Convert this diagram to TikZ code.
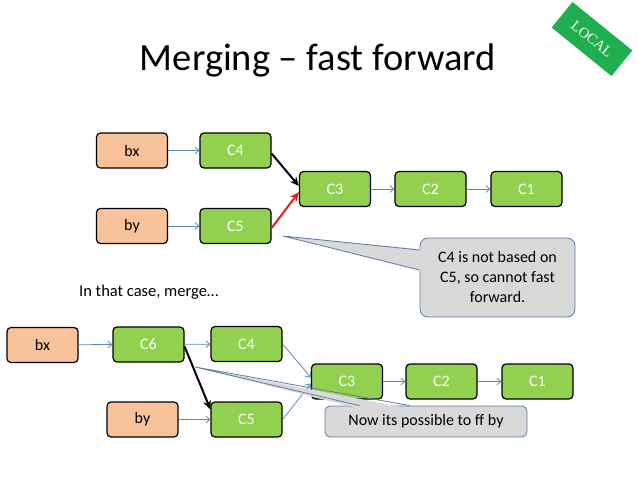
\documentclass[tikz,border=0pt]{standalone}
\usepackage{fontspec}
\setmainfont{Carlito}
\newfontfamily\serifbadge{Liberation Serif}
\usetikzlibrary{arrows.meta,calc}
\definecolor{boxgreen}{HTML}{92D050}
\definecolor{boxorange}{HTML}{F8C29A}
\definecolor{linkblue}{HTML}{5B8BC4}
\definecolor{callgray}{HTML}{D9D9D9}
\definecolor{callborder}{HTML}{5A7EA8}
\definecolor{badgegreen}{HTML}{1FAE50}
\definecolor{redarrow}{HTML}{E81E1E}
\tikzset{
  commit/.style={draw=black, line width=1.2pt, rounded corners=4pt, fill=boxgreen, text=white,
    minimum width=71pt, minimum height=35pt, inner sep=0pt, font=\fontsize{16}{18}\selectfont},
  branch/.style={commit, fill=boxorange, text=black},
  link/.style={draw=linkblue, line width=0.8pt, -{Straight Barb[length=4pt,width=7pt]}},
  bold/.style={line width=2pt, -{Stealth[length=9pt,width=8pt]}},
  callout/.style={draw=callborder, line width=0.8pt, fill=callgray, rounded corners=8pt},
  calltext/.style={font=\fontsize{16}{20}\selectfont, align=center, text=black},
}
\begin{document}
\begin{tikzpicture}[x=1pt,y=-1pt]
\useasboundingbox (0,0) rectangle (638,479);
\fill[white] (0,0) rectangle (638,479);

% title
\node[font=\fontsize{38.5}{42}\selectfont, text=black] (title) at (318,60) {Merging – fast forward};

% badge
\node[fill=badgegreen, text=white, rotate=-39, minimum width=77pt, minimum height=33pt, inner sep=0pt,
  font=\serifbadge\fontsize{14.5}{16}\selectfont] (badge) at (592,39) {LOCAL};

% top row
\node[branch] (bx1) at (132,150.5) {bx};
\node[commit] (C4a) at (235.5,150.5) {C4};
\node[branch] (by1) at (132,226) {by};
\node[commit] (C5a) at (235.5,226) {C5};
\node[commit] (C3a) at (335,189) {C3};
\node[commit] (C2a) at (430.5,189) {C2};
\node[commit] (C1a) at (526.5,189) {C1};

\draw[link] (bx1) -- (C4a);
\draw[link] (by1) -- (C5a);
\draw[link] (C3a) -- (C2a);
\draw[link] (C2a) -- (C1a);
\draw[bold, black] ($(C4a.east)+(0,3)$) -- ($(C3a.west)+(0,-3)$);
\draw[bold, redarrow] ($(C5a.east)+(0,2)$) -- ($(C3a.west)+(0,3)$);

% top callout
\node[callout, minimum width=155pt, minimum height=79pt, inner sep=0pt] (call1) at (497.5,277.5) {};
\coordinate (tip1) at (283,236);
\fill[callgray] (tip1) -- ($(call1.west)+(3,-28)$) -- ($(call1.west)+(3,-6)$) -- cycle;
\draw[callborder, line width=0.8pt] ($(call1.west)+(0,-27.5)$) -- (tip1) -- ($(call1.west)+(0,-7.5)$);
\node[calltext] (t1) at (call1.center) {C4 is not based on\\C5, so cannot fast\\forward.};

% middle text
\node[anchor=west, font=\fontsize{16.5}{18}\selectfont, inner sep=0pt] (mid) at (79,292) {In that case, merge…};

% bottom row
\node[branch] (bx2) at (42.5,345) {bx};
\node[commit] (C6) at (148.5,344.5) {C6};
\node[commit] (C4b) at (246.5,344) {C4};
\node[branch] (by2) at (142.5,419.5) {by};
\node[commit] (C5b) at (246.5,419.5) {C5};
\node[commit] (C3b) at (347,381.5) {C3};
\node[commit] (C2b) at (441.5,381.5) {C2};
\node[commit] (C1b) at (537.5,381.5) {C1};

\draw[link] (bx2) -- (C6.west);
\draw[link] (C6) -- (C4b);
\draw[link] (by2) -- (C5b);
\draw[link] (C4b.east) -- ($(C3b.west)+(0,-4)$);
\draw[link] (C5b.east) -- ($(C3b.west)+(0,2)$);
\draw[link] (C3b) -- (C2b);
\draw[link] (C2b) -- (C1b);
\draw[bold, black] ($(C6.east)+(0,2)$) -- ($(C5b.north west)+(0,8)$);

% bottom callout
\node[callout, rounded corners=5pt, minimum width=202pt, minimum height=31pt, inner sep=0pt] (call2) at (426,421.5) {};
\coordinate (tip2) at (195,367);
\fill[callgray] (tip2) -- ($(call2.north west)+(35,3)$) -- ($(call2.north west)+(85,3)$) -- cycle;
\draw[callborder, line width=0.8pt] ($(call2.north west)+(35,0)$) -- (tip2) -- ($(call2.north west)+(85,0)$);
\node[calltext] (t2) at (call2.center) {Now its possible to ff by};
\end{tikzpicture}
\end{document}
